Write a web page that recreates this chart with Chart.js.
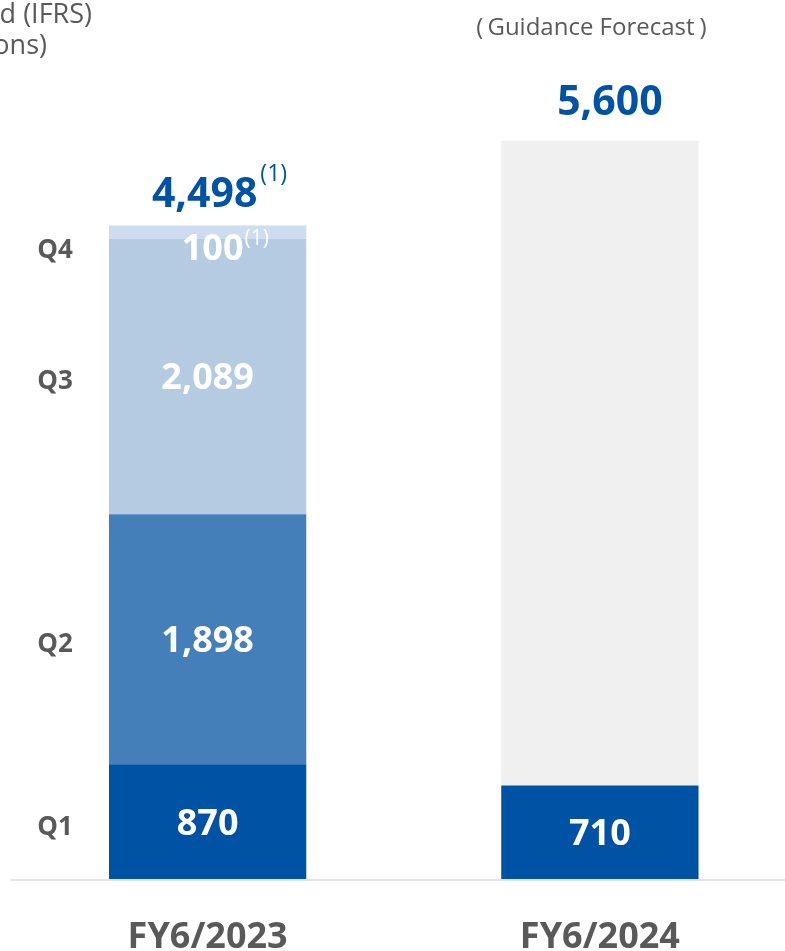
<!DOCTYPE html>
<html>
<head>
<meta charset="utf-8">
<script src="https://cdn.jsdelivr.net/npm/chart.js@4.4.1/dist/chart.umd.min.js"></script>
<style>
  html, body { margin: 0; padding: 0; overflow: hidden; background: #fff; }
  #wrap { position: relative; width: 796px; height: 951px; }
</style>
</head>
<body>
<div id="wrap"><canvas id="chart" width="796" height="951"></canvas></div>
<script>
const years = ['FY6/2023', 'FY6/2024'];
const quarterNames = ['Q1', 'Q2', 'Q3', 'Q4'];
const q1 = [870, 710];
const q2 = [1898, null];
const q3 = [2089, null];
const q4 = [100, null];
const forecastRest = [null, 4890]; // 5,600 guidance minus Q1 actual
const totalLabels = ['4,498', '5,600'];
const totalNotes = ['(1)', ''];
const q4Note = '(1)';

const grey = '#595959';
const navy = '#0052a4';
const font = "'Open Sans', 'Noto Sans', sans-serif";

// draws the baseline, value labels, quarter names and headings
const labelPlugin = {
    id: 'labelPlugin',
    beforeDatasetsDraw(chart) {
        const ctx = chart.ctx;
        const area = chart.chartArea;
        ctx.save();
        ctx.strokeStyle = '#e3e3e3';
        ctx.lineWidth = 2;
        ctx.beginPath();
        ctx.moveTo(area.left - 1, area.bottom + 1);
        ctx.lineTo(chart.width, area.bottom + 1);
        ctx.stroke();
        ctx.restore();
    },
    afterDatasetsDraw(chart) {
        const ctx = chart.ctx;
        const xScale = chart.scales.x;
        ctx.save();

        // segment values
        ctx.fillStyle = '#fff';
        ctx.textAlign = 'center';
        ctx.textBaseline = 'alphabetic';
        for (let d = 0; d < 4; d++) {
            const meta = chart.getDatasetMeta(d);
            meta.data.forEach((bar, i) => {
                const v = chart.data.datasets[d].data[i];
                if (v == null) return;
                const txt = v.toLocaleString('en-US');
                ctx.font = 'bold 36px ' + font;
                if (d === 3) {
                    const xc = bar.x + 5;
                    const yb = bar.y + 34;
                    ctx.textAlign = 'center';
                    ctx.fillText(txt, xc, yb);
                    const w = ctx.measureText(txt).width;
                    ctx.font = '21px ' + font;
                    ctx.textAlign = 'left';
                    ctx.fillText(q4Note, xc + w / 2 + 1, yb - 15);
                    ctx.textAlign = 'center';
                } else {
                    ctx.fillText(txt, bar.x, (bar.y + bar.base) / 2 + 13);
                }
            });
        }

        // quarter names on the left, aligned with the first column
        ctx.fillStyle = grey;
        ctx.font = 'bold 26px ' + font;
        ctx.textAlign = 'center';
        quarterNames.forEach((q, d) => {
            const bar = chart.getDatasetMeta(d).data[0];
            const yb = d === 3 ? bar.y + 32 : (bar.y + bar.base) / 2 + 13;
            ctx.fillText(q, 55, yb);
        });

        // totals above the columns
        const totalDx = [-3, 10];
        const totalDy = [-19, -26];
        years.forEach((yr, i) => {
            let top = Infinity;
            chart.data.datasets.forEach((ds, d) => {
                if (ds.data[i] != null) top = Math.min(top, chart.getDatasetMeta(d).data[i].y);
            });
            const xc = xScale.getPixelForValue(i) + totalDx[i];
            const yb = top + totalDy[i];
            ctx.fillStyle = navy;
            ctx.font = 'bold 41px ' + font;
            ctx.textAlign = 'center';
            ctx.fillText(totalLabels[i], xc, yb);
            if (totalNotes[i]) {
                const w = ctx.measureText(totalLabels[i]).width;
                ctx.font = '23px ' + font;
                ctx.textAlign = 'left';
                ctx.fillText(totalNotes[i], xc + w / 2 + 3, yb - 26);
            }
        });

        // category labels
        ctx.fillStyle = grey;
        ctx.font = 'bold 36px ' + font;
        ctx.textAlign = 'center';
        years.forEach((yr, i) => {
            ctx.fillText(yr, xScale.getPixelForValue(i), 948);
        });

        // heading over the forecast column, brackets set a little apart
        ctx.font = '24px ' + font;
        const head = 'Guidance Forecast';
        const hw = ctx.measureText(head).width;
        const hc = 591;
        ctx.textAlign = 'center';
        ctx.fillText(head, hc, 35);
        ctx.textAlign = 'right';
        ctx.fillText('(', hc - hw / 2 - 4, 35);
        ctx.textAlign = 'left';
        ctx.fillText(')', hc + hw / 2 + 5, 35);

        // unit heading, cut off by the left edge
        ctx.font = '27px ' + font;
        ctx.textAlign = 'right';
        ctx.fillText('Consolidated (IFRS)', 92, 23);
        ctx.fillText('(JPY millions)', 47, 54);

        ctx.restore();
    }
};

new Chart(document.getElementById('chart'), {
    type: 'bar',
    data: {
        labels: years,
        datasets: [
            { label: 'Q1', data: q1, backgroundColor: '#0052a4' },
            { label: 'Q2', data: q2, backgroundColor: '#447fba' },
            { label: 'Q3', data: q3, backgroundColor: '#b4cbe2' },
            { label: 'Q4', data: q4, backgroundColor: '#cddcee' },
            { label: 'Forecast', data: forecastRest, backgroundColor: '#f0f0f0' }
        ]
    },
    options: {
        responsive: false,
        animation: false,
        layout: { padding: { left: 11.5, right: 0, top: 9, bottom: 72 } },
        datasets: { bar: { categoryPercentage: 1, barPercentage: 0.503, borderWidth: 0 } },
        plugins: { legend: { display: false }, tooltip: { enabled: false } },
        scales: {
            x: { display: false, stacked: true },
            y: { display: false, stacked: true, min: 0, max: 6600 }
        }
    },
    plugins: [labelPlugin]
});
</script>
</body>
</html>
